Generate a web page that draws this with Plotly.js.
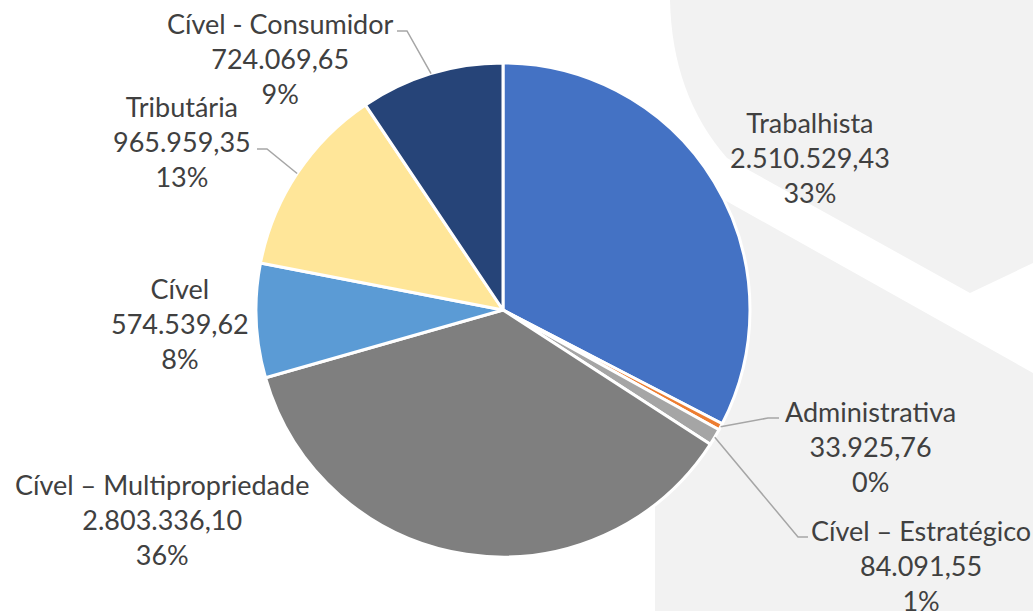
<!DOCTYPE html>
<html>
<head>
<meta charset="utf-8">
<script src="https://cdn.plot.ly/plotly-3.0.1.min.js"></script>
<style>html,body{margin:0;padding:0;background:#fff;}#chart{width:1033px;height:611px;}</style>
</head>
<body>
<div id="chart"></div>
<script>
// ---- data ----
const categories = ["Trabalhista", "Administrativa", "Cível – Estratégico", "Cível – Multipropriedade", "Cível", "Tributária", "Cível - Consumidor"];
const values = [2510529.43, 33925.76, 84091.55, 2803336.10, 574539.62, 965959.35, 724069.65];
const percentLabels = [33, 0, 1, 36, 8, 13, 9];
const colors = ["#4472C4", "#ED7D31", "#A5A5A5", "#7F7F7F", "#5B9BD5", "#FFE699", "#264478"];

// ---- layout config (pixel positions) ----
const W = 1033, H = 611;
const CX = 503, CY = 310, R = 247;
const labelPos = [
  {x: 810, y: 157},
  {x: 870, y: 446, elbow: [768, 418], end: [779, 418]},
  {x: 921, y: 565, elbow: [798, 537], end: [808, 537]},
  {x: 162, y: 519},
  {x: 180, y: 323},
  {x: 182, y: 141, elbow: [267, 149], end: [257, 149]},
  {x: 280, y: 58, elbow: [407, 31], end: [397, 31]}
];

const px = x => x / W;
const py = y => 1 - y / H;

function fmt(v) {
  const parts = v.toFixed(2).split(".");
  const intPart = parts[0].replace(/\B(?=(\d{3})+(?!\d))/g, ".");
  return intPart + "," + parts[1];
}

const total = values.reduce((a, b) => a + b, 0);

const annotations = [];
const shapes = [];

// background watermark shapes
shapes.push({
  type: "path", xref: "paper", yref: "paper", layer: "below",
  path: `M ${px(670)} ${py(0)} Q ${px(672)} ${py(95)} ${px(727)} ${py(158)} L ${px(970)} ${py(293)} L ${px(1033)} ${py(263)} L ${px(1033)} ${py(0)} Z`,
  fillcolor: "#F2F2F2", line: {width: 0}
});
shapes.push({
  type: "path", xref: "paper", yref: "paper", layer: "below",
  path: `M ${px(655)} ${py(161)} L ${px(1033)} ${py(373)} L ${px(1033)} ${py(611)} L ${px(655)} ${py(611)} Z`,
  fillcolor: "#F2F2F2", line: {width: 0}
});

let cum = 0;
for (let i = 0; i < values.length; i++) {
  const frac = values[i] / total;
  const mid = (cum + frac / 2) * 2 * Math.PI;
  cum += frac;
  const lp = labelPos[i];
  annotations.push({
    xref: "paper", yref: "paper", x: px(lp.x), y: py(lp.y),
    xanchor: "center", yanchor: "middle", showarrow: false, align: "center",
    text: categories[i] + "<br>" + fmt(values[i]) + "<br>" + percentLabels[i] + "%",
    font: {family: "Lato, 'Open Sans', sans-serif", size: 27, color: "#404040"}
  });
  if (lp.elbow) {
    const ex = CX + R * Math.sin(mid);
    const ey = CY - R * Math.cos(mid);
    shapes.push({
      type: "path", xref: "paper", yref: "paper", layer: "above",
      path: `M ${px(ex)} ${py(ey)} L ${px(lp.elbow[0])} ${py(lp.elbow[1])} L ${px(lp.end[0])} ${py(lp.end[1])}`,
      line: {color: "#A6A6A6", width: 1.5}
    });
  }
}

const trace = {
  type: "pie",
  labels: categories,
  values: values,
  sort: false,
  direction: "clockwise",
  rotation: 0,
  textinfo: "none",
  hoverinfo: "label+value+percent",
  marker: {colors: colors, line: {color: "#FFFFFF", width: 3}},
  domain: {x: [(CX - R) / W, (CX + R) / W], y: [1 - (CY + R) / H, 1 - (CY - R) / H]},
  showlegend: false
};

const layout = {
  width: W, height: H,
  margin: {l: 0, r: 0, t: 0, b: 0},
  paper_bgcolor: "#FFFFFF",
  plot_bgcolor: "#FFFFFF",
  showlegend: false,
  annotations: annotations,
  shapes: shapes
};

Plotly.newPlot("chart", [trace], layout, {displayModeBar: false, staticPlot: true});
</script>
</body>
</html>
